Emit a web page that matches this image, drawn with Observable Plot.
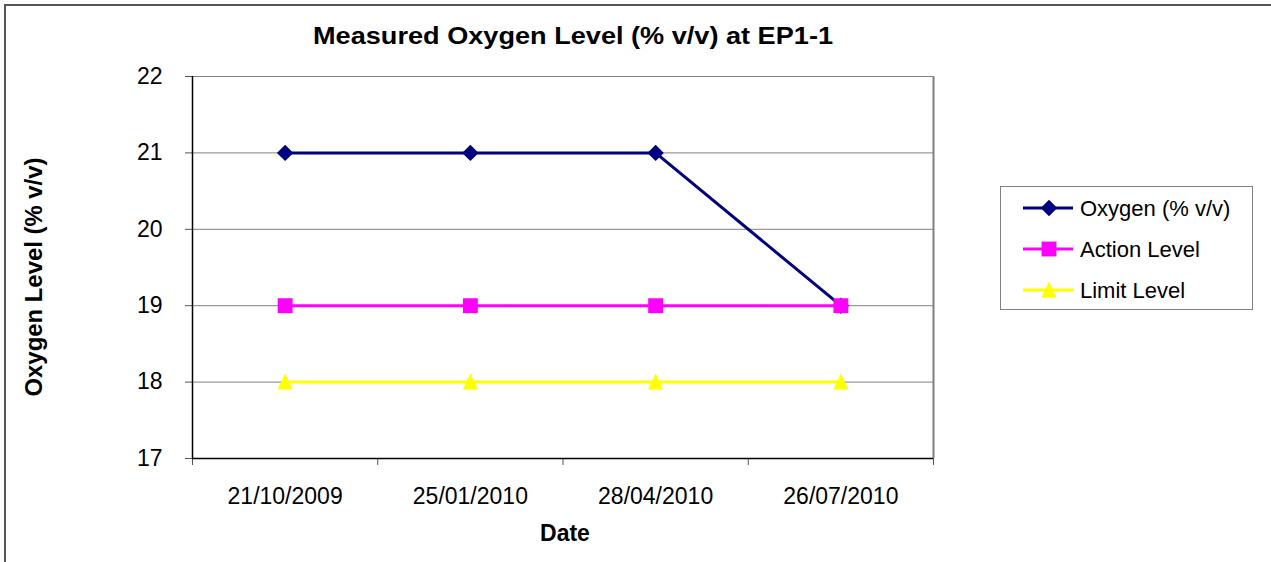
<!DOCTYPE html>
<html><head><meta charset="utf-8">
<script src="https://cdn.jsdelivr.net/npm/d3@7"></script>
<script src="https://cdn.jsdelivr.net/npm/@observablehq/plot@0.6"></script>
<style>
body{margin:0;background:#fff;}
#wrap{position:relative;width:1271px;height:562px;overflow:hidden;background:#fff;font-family:"Liberation Sans",Arial,sans-serif;}
#wrap > *{position:absolute;left:0;top:0;}
#frame{left:4px !important;top:4px !important;width:1400px;height:700px;border-left:2px solid #555;border-top:2px solid #555;}
</style>
</head><body>
<div id="wrap"></div>
<script>
const dates = ["21/10/2009", "25/01/2010", "28/04/2010", "26/07/2010"];
const oxygen = [21, 21, 21, 19];
const action = [19, 19, 19, 19];
const limit = [18, 18, 18, 18];
const yTicks = [17, 18, 19, 20, 21, 22];
const seriesNames = ["Oxygen (% v/v)", "Action Level", "Limit Level"];
const seriesColors = ["#000080", "#FF00FF", "#FFFF00"];
const titleText = "Measured Oxygen Level (% v/v) at EP1-1";
const xTitle = "Date";
const yTitle = "Oxygen Level (% v/v)";

const triangle = {draw(ctx) { ctx.moveTo(0, -8.5); ctx.lineTo(7.5, 7.5); ctx.lineTo(-7.5, 7.5); ctx.closePath(); }};
const symbols = ["diamond2", "square", triangle];
const radii = [7.4, 8.4, 7];
const valuesList = [oxygen, action, limit];

const seriesMarks = [];
valuesList.forEach((vals, s) => {
  const rows = dates.map((d, i) => ({date: d, pos: i + 0.5, value: vals[i]}));
  seriesMarks.push(Plot.line(rows, {x: "pos", y: "value", stroke: seriesColors[s], strokeWidth: 3}));
  seriesMarks.push(Plot.dot(rows, {x: "pos", y: "value", symbol: symbols[s], r: radii[s], fill: seriesColors[s], stroke: "none"}));
});

const chart = Plot.plot({
  width: 1271, height: 562,
  marginLeft: 192, marginRight: 338, marginTop: 76, marginBottom: 104,
  style: {fontFamily: "'Liberation Sans', Arial, sans-serif", fontSize: "23px", background: "transparent", color: "black"},
  x: {domain: [0, dates.length]},
  y: {domain: [17, 22]},
  marks: [
    Plot.ruleY(yTicks.slice(1), {stroke: "#808080", strokeWidth: 1}),
    Plot.ruleX([dates.length], {stroke: "#808080", strokeWidth: 2}),
    Plot.axisY({ticks: yTicks, tickSize: 7, tickPadding: 23, fontSize: 23, label: null, stroke: "#555", tickFormat: d3.format("d")}),
    Plot.axisX({ticks: dates.map((d, i) => i + 0.5), tickSize: 0, tickPadding: 29, fontSize: 23, label: null, tickFormat: v => dates[Math.floor(v)]}),
    Plot.axisX({ticks: d3.range(dates.length + 1), tickSize: 7, label: null, tickFormat: () => "", stroke: "#555"}),
    Plot.ruleX([0], {stroke: "black", strokeWidth: 1.5}),
    Plot.ruleY([17], {stroke: "black", strokeWidth: 1.5}),
    ...seriesMarks
  ]
});

const wrap = document.getElementById("wrap");
wrap.appendChild(chart);
const frame = document.createElement("div");
frame.id = "frame";
wrap.appendChild(frame);

// overlay: titles and legend
const ov = d3.create("svg").attr("width", 1271).attr("height", 562)
  .style("font-family", "'Liberation Sans', Arial, sans-serif");
ov.append("text").attr("x", 573).attr("y", 44).attr("text-anchor", "middle")
  .attr("font-weight", "bold").attr("font-size", 24)
  .attr("textLength", 520).attr("lengthAdjust", "spacingAndGlyphs").text(titleText);
ov.append("text").attr("x", 565).attr("y", 541).attr("text-anchor", "middle")
  .attr("font-weight", "bold").attr("font-size", 23).text(xTitle);
ov.append("text").attr("transform", "translate(42,277) rotate(-90)").attr("text-anchor", "middle")
  .attr("font-weight", "bold").attr("font-size", 23).attr("textLength", 239)
  .attr("lengthAdjust", "spacingAndGlyphs").text(yTitle);

const lg = ov.append("g");
lg.append("rect").attr("x", 1000.5).attr("y", 186.5).attr("width", 252).attr("height", 123)
  .attr("fill", "white").attr("stroke", "#808080");
const rowY = [208, 249, 290];
const legendSyms = [d3.symbolDiamond2, d3.symbolSquare, triangle];
const legendSizes = radii.map(r => Math.PI * r * r);
seriesNames.forEach((name, s) => {
  const y = rowY[s];
  lg.append("line").attr("x1", 1023).attr("x2", 1073).attr("y1", y).attr("y2", y)
    .attr("stroke", seriesColors[s]).attr("stroke-width", 3);
  lg.append("path").attr("transform", `translate(1049,${y})`)
    .attr("d", d3.symbol(legendSyms[s], legendSizes[s])()).attr("fill", seriesColors[s]);
  lg.append("text").attr("x", 1080).attr("y", y + 8).attr("font-size", 22).text(name);
});
wrap.appendChild(ov.node());
</script>
</body></html>
